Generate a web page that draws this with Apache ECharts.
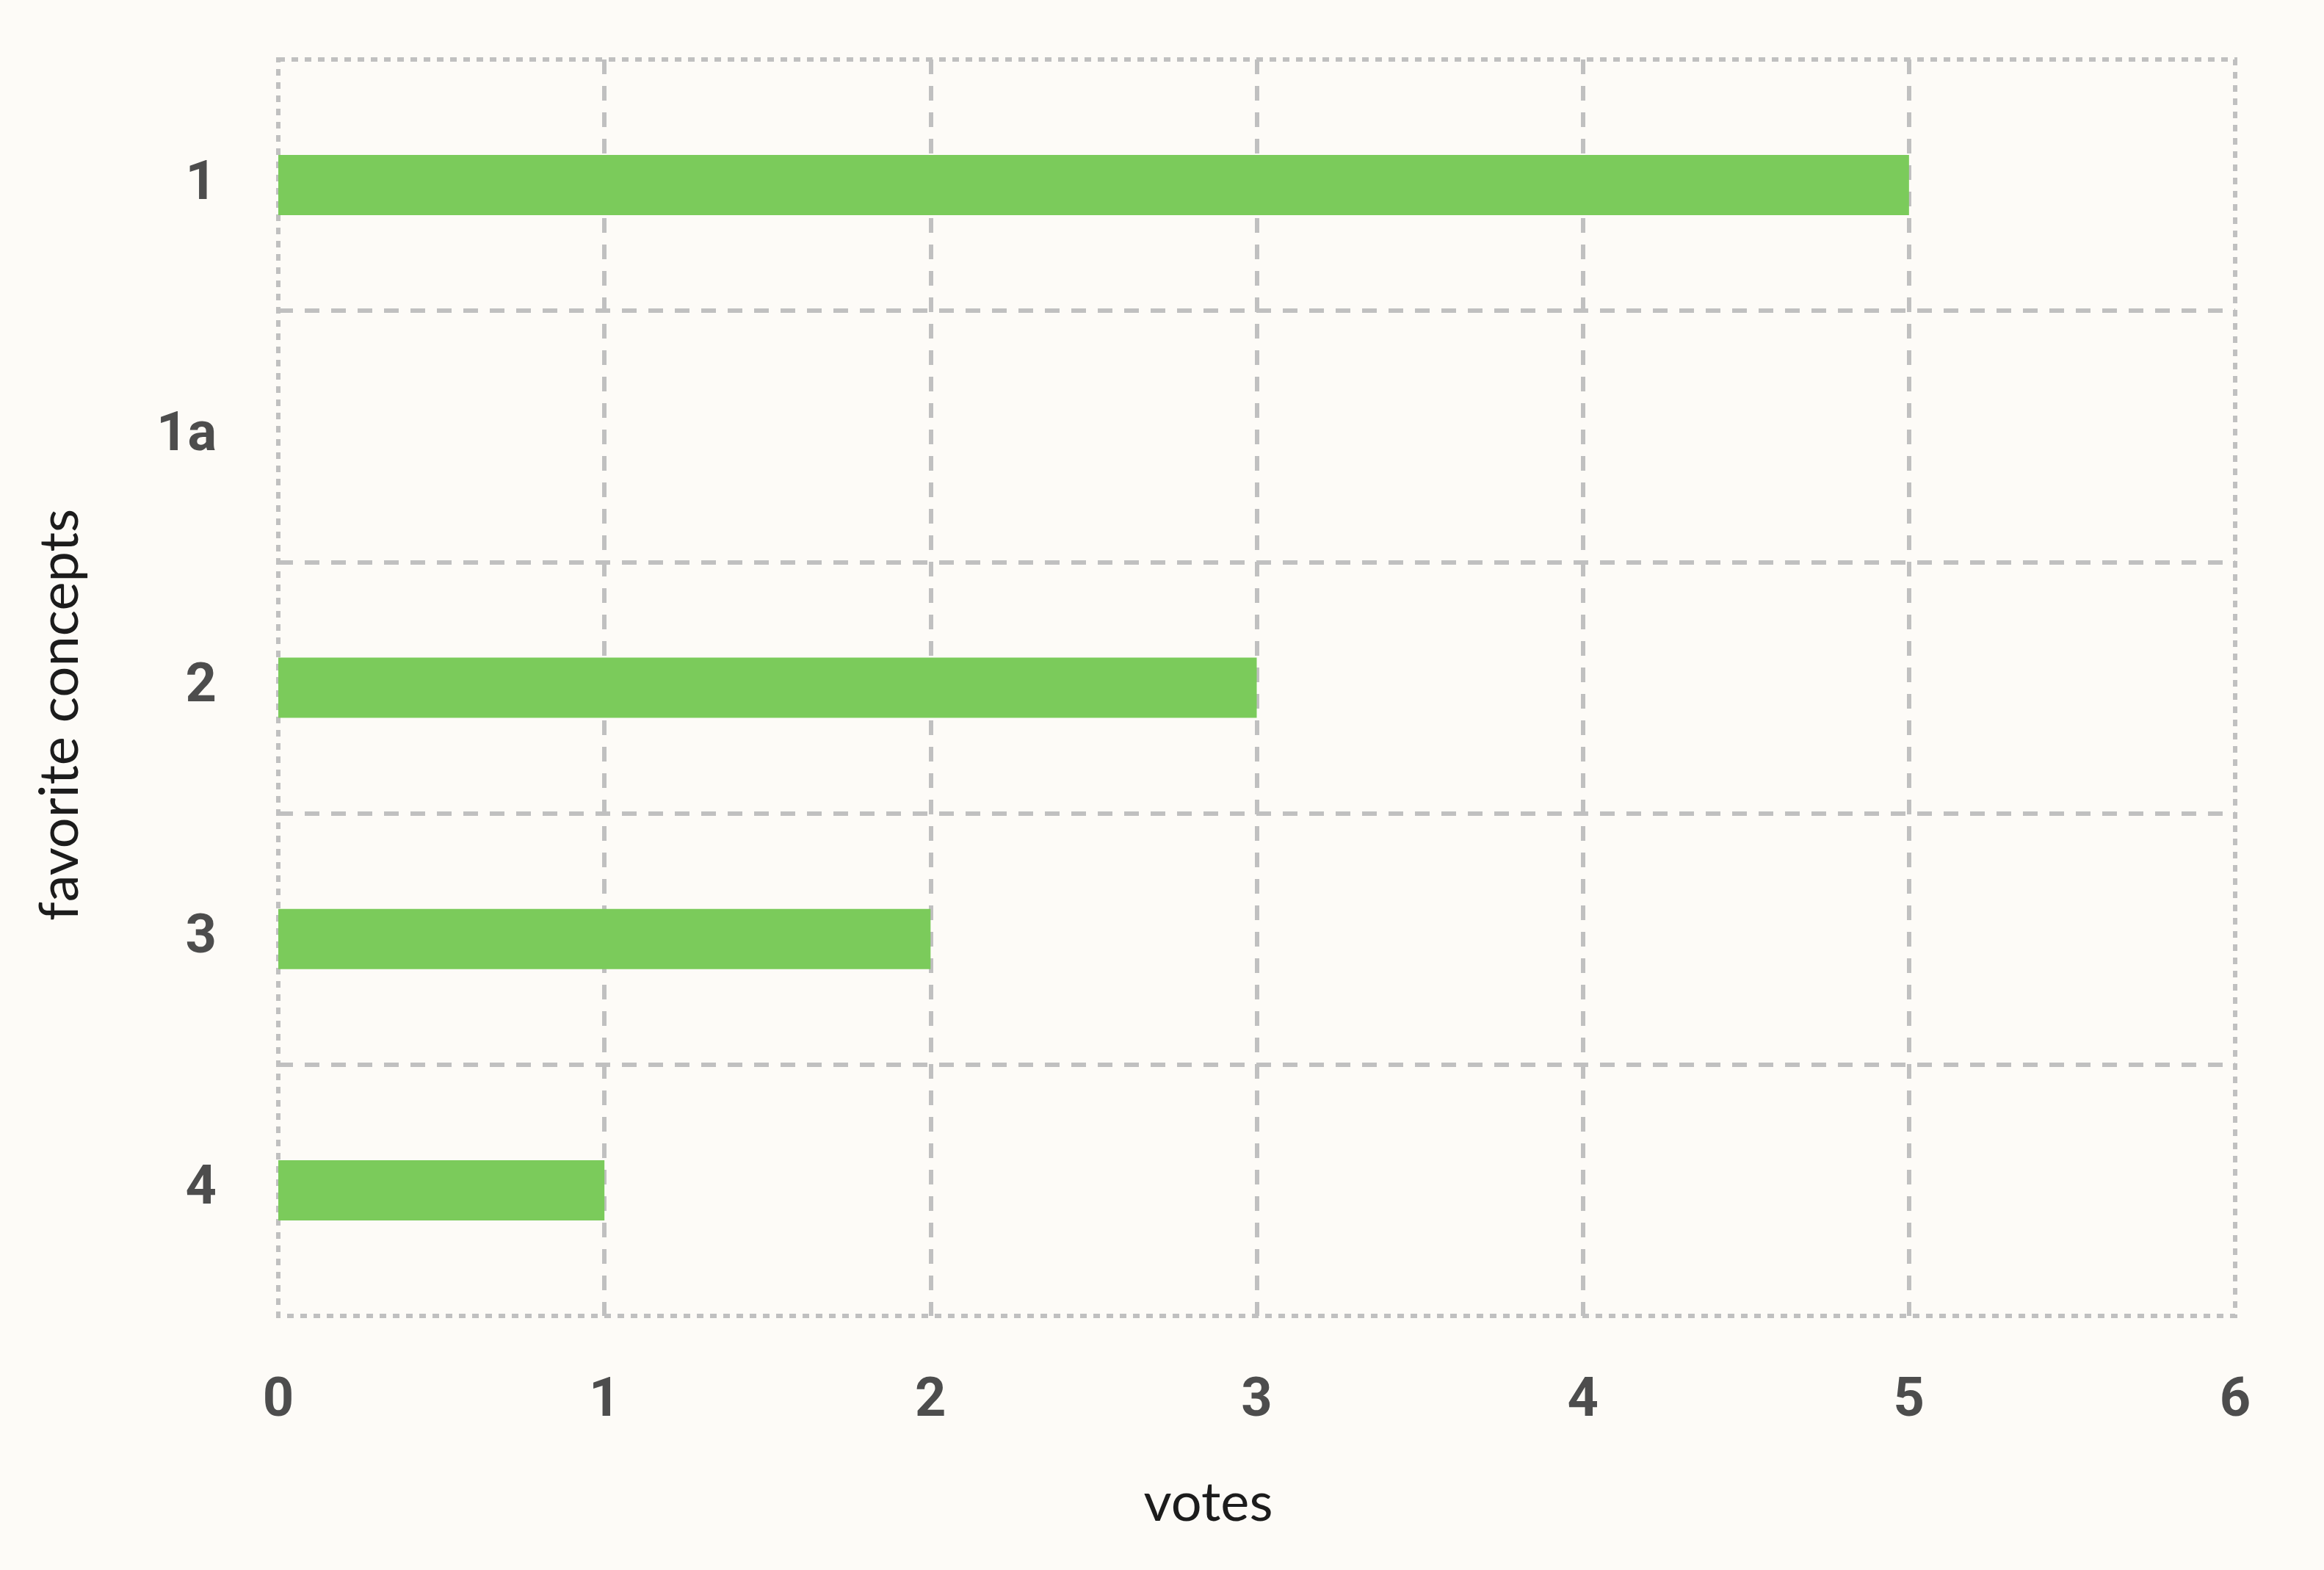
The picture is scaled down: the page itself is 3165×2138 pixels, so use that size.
<!DOCTYPE html>
<html>
<head>
<meta charset="utf-8">
<script src="https://cdn.jsdelivr.net/npm/echarts@6/dist/echarts.min.js"></script>
<style>
html,body{margin:0;padding:0;background:#fdfbf7;}
#chart{width:3165px;height:2138px;}
</style>
</head>
<body>
<div id="chart"></div>
<script>
const categories = ['1', '1a', '2', '3', '4'];
const votes = [5, 0, 3, 2, 1];
const xTicks = [0, 1, 2, 3, 4, 5, 6];

const chart = echarts.init(document.getElementById('chart'), null, {renderer: 'canvas'});
const gridColor = '#c0c0c0';
chart.setOption({
  backgroundColor: '#fdfbf7',
  animation: false,
  grid: {
    left: 379, right: 121, top: 81, bottom: 346,
    show: true,
    backgroundColor: 'transparent',
    borderColor: gridColor,
    borderWidth: 6,
    borderType: [9, 9]
  },
  xAxis: {
    type: 'value',
    min: xTicks[0],
    max: xTicks[xTicks.length - 1],
    interval: 1,
    name: 'votes',
    nameLocation: 'middle',
    nameGap: 218,
    nameTextStyle: {fontFamily: 'Lato', fontSize: 74, color: '#1c1c1c', padding: [0, 132, 0, 0]},
    axisLine: {show: false},
    axisTick: {show: false},
    axisLabel: {
      margin: 80,
      fontFamily: 'Roboto', fontWeight: 'bold', fontSize: 74, color: '#4d4d4d',
      formatter: v => String(v)
    },
    splitLine: {
      show: true, showMinLine: false, showMaxLine: false,
      lineStyle: {color: gridColor, width: 6, type: [20, 16]}
    }
  },
  yAxis: {
    type: 'category',
    data: categories,
    inverse: true,
    name: 'favorite concepts',
    nameLocation: 'middle',
    nameGap: 260,
    nameTextStyle: {fontFamily: 'Lato', fontSize: 74, color: '#1c1c1c', padding: [0, 74, 0, 0]},
    axisLine: {show: false},
    axisTick: {show: false},
    axisLabel: {
      margin: 84,
      fontFamily: 'Roboto', fontWeight: 'bold', fontSize: 74, color: '#4d4d4d'
    },
    splitLine: {
      show: true, showMinLine: false, showMaxLine: false,
      lineStyle: {color: gridColor, width: 6, type: [20, 16]}
    }
  },
  series: [{
    type: 'bar',
    data: votes,
    barWidth: 82,
    itemStyle: {color: '#7bcb5b'},
    z: 3
  }]
});
</script>
</body>
</html>
